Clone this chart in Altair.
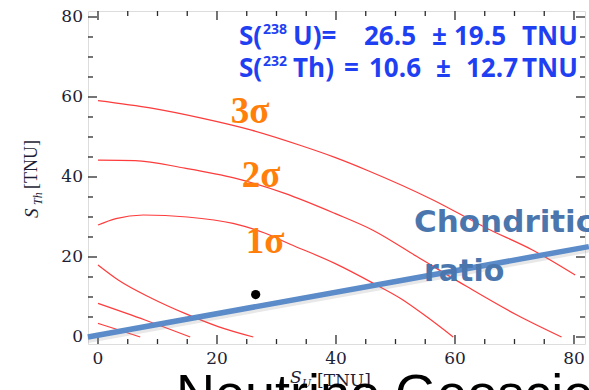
import altair as alt
import pandas as pd

# ---------------- data ----------------
curve_a_x = [0, 3.5, 7.1]
curve_a_y = [3.4, 1.75, 0]
curve_b_x = [0, 7.9, 15.5]
curve_b_y = [8.4, 4.25, 0]
curve_c_x = [0, 3.4, 9.0, 14.6, 20.2, 26.1]
curve_c_y = [18.0, 14.25, 9.7, 5.9, 2.6, 0]
sig1_x = [0, 3, 7.6, 15, 22.7, 28, 32.3, 39.8, 46.3, 51, 55.2, 59.7]
sig1_y = [28, 29.6, 30.5, 30, 28.4, 26, 23.2, 18.4, 13.4, 9.5, 5.1, 0]
sig2_x = [0, 6.2, 14.6, 23, 31.4, 39.8, 46.2, 53.6, 62, 70.4, 77.9]
sig2_y = [44.2, 44.1, 42.2, 39.7, 35.9, 30.9, 26.7, 20.1, 12.6, 5.5, 0]
sig3_x = [0, 9, 17.4, 25.8, 34.2, 39.8, 45.2, 56.4, 65.3, 73.1, 80.2]
sig3_y = [59.1, 57.2, 54.7, 51.7, 47.8, 44.9, 41.7, 34.2, 27.2, 21.7, 15.5]

chond_x = [-1.7, 82.5]
chond_y = [0.0, 22.6]

best_u = [26.5]
best_th = [10.6]

major_ticks = [0, 20, 40, 60, 80]
minor_ticks = [5, 10, 15, 25, 30, 35, 45, 50, 55, 65, 70, 75]

# ---------------- layout ----------------
PL, PT = 88, 11          # plot-area origin in the page
W, H = 497, 333          # plot-area size

xs = alt.Scale(domain=[-1.68, 81.85], nice=False, zero=False)
ys = alt.Scale(domain=[-1.75, 81.5], nice=False, zero=False)

rows = []
for name, cx, cy in [("a", curve_a_x, curve_a_y), ("b", curve_b_x, curve_b_y),
                     ("c", curve_c_x, curve_c_y), ("s1", sig1_x, sig1_y),
                     ("s2", sig2_x, sig2_y), ("s3", sig3_x, sig3_y)]:
    for i, (a, b) in enumerate(zip(cx, cy)):
        rows.append({"curve": name, "i": i, "u": a, "th": b})
curves_df = pd.DataFrame(rows)

serif = "DejaVu Serif"
tick_col = "#1e1e36"

X = lambda f: alt.X(f, scale=xs, axis=None)
Y = lambda f: alt.Y(f, scale=ys, axis=None)

curves = alt.Chart(curves_df).mark_line(
    color="#ff3b3b", strokeWidth=1.2, interpolate="monotone", clip=True
).encode(x=X("u:Q"), y=Y("th:Q"), detail="curve:N", order="i:Q")

major_df = pd.DataFrame({"t": major_ticks})
minor_df = pd.DataFrame({"t": minor_ticks})


def xticks(df, y0, y1):
    return alt.Chart(df).mark_rule(color="#2a2a2a", strokeWidth=1.3).encode(
        x=X("t:Q"), y=alt.value(y0), y2=alt.value(y1))


def yticks(df, x0, x1):
    return alt.Chart(df).mark_rule(color="#2a2a2a", strokeWidth=1.3).encode(
        y=Y("t:Q"), x=alt.value(x0), x2=alt.value(x1))


MJ, MN = 9, 5
ticks = [
    xticks(major_df, H, H - MJ), xticks(minor_df, H, H - MN),
    xticks(major_df, 0, MJ), xticks(minor_df, 0, MN),
    yticks(major_df, 0, MJ), yticks(minor_df, 0, MN),
    yticks(major_df, W, W - MJ), yticks(minor_df, W, W - MN),
]

# tick labels (drawn through the scales)
xlabels = alt.Chart(major_df).mark_text(
    font=serif, fontSize=17, color=tick_col, align="center", baseline="alphabetic"
).encode(x=X("t:Q"), y=alt.value(364 - PT), text="t:Q")
ylabels = alt.Chart(major_df).mark_text(
    font=serif, fontSize=17, color=tick_col, align="right", baseline="middle"
).encode(y=Y("t:Q"), x=alt.value(83 - PL), text="t:Q")

chond_df = pd.DataFrame({"u": chond_x, "th": chond_y})
shadow = alt.Chart(chond_df).mark_line(
    color="#8a8a8a", strokeWidth=6, opacity=0.2, yOffset=3
).encode(x=X("u:Q"), y=Y("th:Q"))
chond = alt.Chart(chond_df).mark_line(
    color="#5b8bc8", strokeWidth=5.5
).encode(x=X("u:Q"), y=Y("th:Q"))

dot = alt.Chart(pd.DataFrame({"u": best_u, "th": best_th})).mark_circle(
    color="black", size=85, opacity=1
).encode(x=X("u:Q"), y=Y("th:Q"))


def label(txt, px, py, **kw):
    return alt.Chart(alt.Data(values=[{}])).mark_text(text=txt, **kw).encode(
        x=alt.value(px - PL), y=alt.value(py - PT))


blue = "#1f40f2"
sans = "Open Sans"


def btxt(txt, px, py, size=26):
    return label(txt, px, py, font=sans, fontWeight="bold", fontSize=size,
                 color=blue, align="left", baseline="alphabetic")


texts = [
    # result box, line 1
    btxt("S(", 239, 45), btxt("238", 263, 34, 14), btxt("U)=", 293, 45),
    btxt("26.5", 364, 45), btxt("±", 432, 45), btxt("19.5", 454, 45),
    btxt("TNU", 522, 45),
    # result box, line 2
    btxt("S(", 239, 77), btxt("232", 263, 66, 14), btxt("Th)", 293, 77),
    btxt("=", 344, 77), btxt("10.6", 369, 77), btxt("±", 436, 77),
    btxt("12.7", 466, 77), btxt("TNU", 522, 77),
    # sigma labels
    label("3σ", 250, 123, font="Liberation Serif", fontWeight="bold", fontSize=37,
          color="#ff7f0a", align="center", baseline="alphabetic"),
    label("2σ", 261, 187, font="Liberation Serif", fontWeight="bold", fontSize=37,
          color="#ff7f0a", align="center", baseline="alphabetic"),
    label("1σ", 265, 253, font="Liberation Serif", fontWeight="bold", fontSize=37,
          color="#ff7f0a", align="center", baseline="alphabetic"),
    # chondritic label
    label("Chondritic", 414, 232, font="DejaVu Sans", fontWeight="bold", fontSize=31,
          color="#4a76ad", align="left", baseline="alphabetic"),
    label("ratio", 424, 281, font="DejaVu Sans", fontWeight="bold", fontSize=30,
          color="#4a76ad", align="left", baseline="alphabetic"),
    # axis title (x)
    label("S", 290, 383, font=serif, fontStyle="italic", fontSize=17,
          color=tick_col, align="left", baseline="alphabetic"),
    label("U", 302, 387, font=serif, fontStyle="italic", fontSize=11,
          color=tick_col, align="left", baseline="alphabetic"),
    label("[TNU]", 317, 386, font=serif, fontSize=17, color=tick_col,
          align="left", baseline="alphabetic"),
    # axis title (y, rotated)
    label("S", 32, 218, font="Liberation Serif", fontStyle="italic", fontSize=19,
          color=tick_col, align="left", baseline="middle", angle=270),
    label("Th", 38, 205, font="Liberation Serif", fontStyle="italic", fontSize=12,
          color=tick_col, align="left", baseline="middle", angle=270),
    label("[TNU]", 32, 189, font="Liberation Serif", fontSize=18, color=tick_col,
          align="left", baseline="middle", angle=270),
    # slide title fragment at the bottom
    label("Neutrino Geoscience", 176, 412, font="Liberation Sans", fontSize=54,
          color="black", align="left", baseline="alphabetic"),
]

chart = alt.layer(curves, *ticks, xlabels, ylabels, shadow, chond, dot, *texts).properties(
    width=W, height=H,
    autosize=alt.AutoSizeParams(type="none"),
    padding={"left": PL, "top": PT, "right": 589 - PL - W, "bottom": 390 - PT - H},
).configure_view(stroke="#2a2a2a", strokeWidth=2).configure(background="white")

chart.save("out.html", embed_options={"renderer": "svg", "actions": False})
